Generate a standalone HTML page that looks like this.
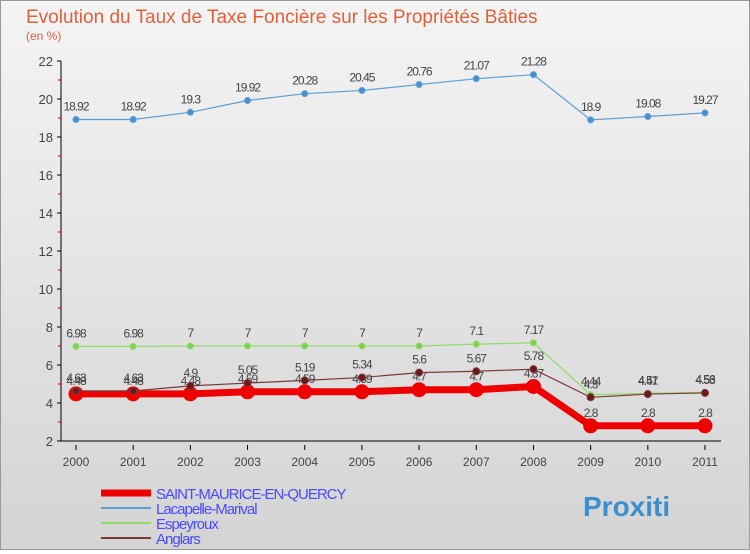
<!DOCTYPE html>
<html><head><meta charset="utf-8"><style>
body{margin:0;width:750px;height:550px;overflow:hidden;font-family:"Liberation Sans",sans-serif}
#w{position:relative;width:748px;height:548px;border:1px solid #999;background:linear-gradient(#f4f4f4,#d4d4d4);}
</style></head><body>
<div id="w">
<svg id="c" width="748" height="548" font-family="Liberation Sans, sans-serif"></svg>
</div>
<script>
const years=['2000','2001','2002','2003','2004','2005','2006','2007','2008','2009','2010','2011'];
const yTicks=[2,4,6,8,10,12,14,16,18,20,22];
const sSaint=[4.48,4.48,4.48,4.59,4.59,4.59,4.7,4.7,4.87,2.8,2.8,2.8];
const sLacapelle=[18.92,18.92,19.3,19.92,20.28,20.45,20.76,21.07,21.28,18.9,19.08,19.27];
const sEspeyroux=[6.98,6.98,7,7,7,7,7,7.1,7.17,4.44,4.51,4.56];
const sAnglars=[4.63,4.63,4.9,5.05,5.19,5.34,5.6,5.67,5.78,4.3,4.47,4.53];
const svg=document.getElementById('c');const NS='http://www.w3.org/2000/svg';
function X(i){return 75+i*(704-75)/11;}
function Y(v){return 440-(v-2)*(380/20);}
function el(t,a,p){const e=document.createElementNS(NS,t);for(const k in a)e.setAttribute(k,a[k]);(p||svg).appendChild(e);return e;}
function tx(x,y,s,a){const e=el('text',Object.assign({x:x,y:y},a));e.textContent=s;return e;}
let t=tx(25,22,'Evolution du Taux de Taxe Foncière sur les Propriétés Bâties',{'font-size':19,fill:'#e0603a'});

t=tx(25,39,'(en %)',{'font-size':12,fill:'#e0603a'});

let a=el('line',{x1:60,y1:Y(22),x2:60,y2:Y(2),stroke:'#000'});

a=el('line',{x1:60,y1:Y(2),x2:720,y2:Y(2),stroke:'#000'});

yTicks.forEach(v=>{el('line',{x1:56,y1:Y(v),x2:60,y2:Y(v),stroke:'#000'});
 if(v<22)el('line',{x1:57,y1:Y(v+1),x2:60,y2:Y(v+1),stroke:'#c00'});
 const l=tx(52,Y(v)+5,String(v),{'font-size':13,fill:'#444','text-anchor':'end'});
 });
years.forEach((y,i)=>{el('line',{x1:X(i),y1:Y(2)+4,x2:X(i),y2:Y(2)+9,stroke:'#000'});
 const l=tx(X(i),Y(2)+25,y,{'font-size':12,fill:'#444','text-anchor':'middle'});
 });
function series(d,name,col,w,r,fill,lab){const g=el('g',{});
 
 el('polyline',{points:d.map((v,i)=>X(i)+','+Y(v)).join(' '),fill:'none',stroke:col,'stroke-width':w},g);
 d.forEach((v,i)=>{const c=el('circle',{cx:X(i),cy:Y(v),r:r,fill:fill,stroke:col},g);
  
  const l=tx(X(i),Y(v)+lab,String(v),{'font-size':12,fill:'#444','text-anchor':'middle','letter-spacing':'-1'},g);
  });}
series(sLacapelle,'series-lacapelle','#5a9fd6',1.2,3,'#4a90d0',-9);
series(sEspeyroux,'series-espeyroux','#8fdb6a',1.2,3,'#7ed050',-9);
series(sSaint,'series-saint-maurice','#ee0000',7,7,'#ee0000',-9);
series(sAnglars,'series-anglars','#7a3a3a',1.2,3.5,'#6a1a1a',-9);
const leg=[['SAINT-MAURICE-EN-QUERCY','#ee0000',7],['Lacapelle-Marival','#5a9fd6',2],['Espeyroux','#8fdb6a',2],['Anglars','#7a3a3a',2]];
leg.forEach((L,i)=>{const y=492+i*15;const g=el('g',{});
 
 el('line',{x1:100,y1:y,x2:150,y2:y,stroke:L[1],'stroke-width':L[2]},g);
 tx(155,y+6,L[0],{'font-size':15,fill:'#4a4aff','letter-spacing':'-1'},g);});
t=tx(582,515,'Proxiti',{'font-size':28,'font-weight':'bold',fill:'#3a8fd0'});

</script>
</body></html>
